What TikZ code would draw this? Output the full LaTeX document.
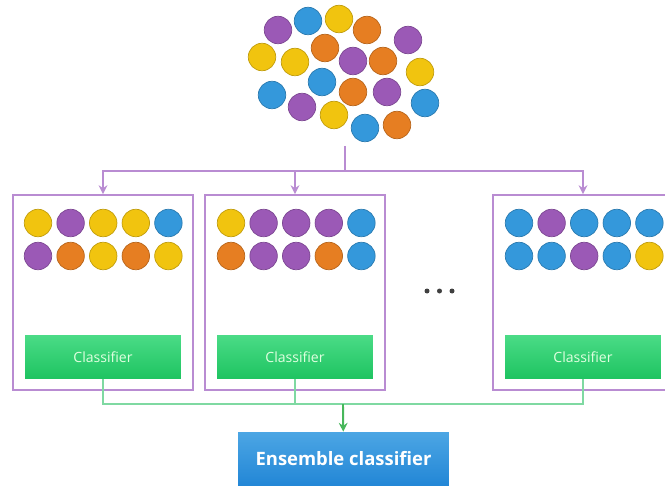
\documentclass[tikz,border=0pt]{standalone}
\usepackage{fontspec}
\setsansfont{Open Sans}
\usetikzlibrary{positioning, arrows.meta}
\definecolor{gold}{HTML}{F1C40F}
\definecolor{plum}{HTML}{9B59B6}
\definecolor{tang}{HTML}{E67E22}
\definecolor{sky}{HTML}{3498DB}
\definecolor{bagline}{HTML}{B98CD2}
\definecolor{voteline}{HTML}{7FD9A2}
\definecolor{clftop}{HTML}{4ADB86}
\definecolor{clfbot}{HTML}{1EC461}
\definecolor{enstop}{HTML}{4CA6E4}
\definecolor{ensbot}{HTML}{2286D6}
\tikzset{
  >={Stealth[length=5pt, width=5pt]}, % small filled heads
  ball/.style={circle, minimum size=0.55cm, inner sep=0pt, draw=#1!80!black, line width=0.4pt, fill=#1}, % one sample
  bag/.style={draw=bagline, line width=1.1pt, minimum width=3.6cm, minimum height=3.9cm}, % a bootstrap sample
  clf/.style={minimum width=3.12cm, minimum height=0.86cm, top color=clftop, bottom color=clfbot,
    text=white!88!green, font=\sffamily\fontsize{8}{9}\selectfont}, % base learner
  ens/.style={minimum width=4.22cm, minimum height=1.08cm, top color=enstop, bottom color=ensbot,
    text=white, font=\sffamily\bfseries\fontsize{10.5}{12}\selectfont}, % final model
  feed/.style={draw=bagline, line width=1.1pt},
  vote/.style={draw=voteline, line width=1.1pt},
  dot/.style={circle, fill=black!75, inner sep=0pt, minimum size=0.1cm}
}
\begin{document}
\begin{tikzpicture}[x=0.02cm, y=-0.02cm]
  \useasboundingbox (0,0) rectangle (665,486);
  \clip (0,0) rectangle (665,486);

  % the full data set
  \foreach \x/\y/\col [count=\i] in {278/30/plum, 308/21/sky, 339/19/gold, 367/30/tang, 408/40/plum,
      262/57/gold, 295/62/gold, 325/48/tang, 353/61/plum, 383/61/tang, 420/72/gold,
      322/82/sky, 272/95/sky, 302/107/plum, 353/92/tang, 387/92/plum, 425/103/sky,
      334/115/gold, 365/128/sky, 397/125/tang}
    \node[ball=\col] (p\i) at (\x,\y) {};
  \coordinate (pool) at (345,146);
  \coordinate (split) at (345,171);

  % the bags
  \node[bag] (box1) at (103,292.5) {};
  \node[bag] (box2) at (295,292.5) {};
  \node[bag] (box3) at (583,292.5) {};

  \foreach \bag/\xs/\cols in {1/38/{gold,plum,gold,gold,sky,plum,tang,gold,tang,gold},
      2/231/{gold,plum,plum,plum,sky,tang,plum,plum,tang,sky},
      3/519/{sky,plum,sky,sky,sky,sky,sky,plum,sky,gold}}
    \foreach \col [count=\i from 0] in \cols
      \node[ball=\col] (b\bag-\i) at ({\xs+32.6*mod(\i,5)},{223+33*int(\i/5)}) {};

  \node[clf, above=0.24cm of box1.south] (clf1) {Classifier};
  \node[clf, above=0.24cm of box2.south] (clf2) {Classifier};
  \node[clf, above=0.24cm of box3.south] (clf3) {Classifier};

  % more bags
  \foreach \x [count=\i] in {427,439.5,452}
    \node[dot] (more\i) at (\x,291) {};

  \node[ens] (ensemble) at (343.5,459) {Ensemble classifier};
  \coordinate (merge) at (343,404);

  \draw[feed] (pool) -- (split);
  \foreach \b in {box1,box2,box3}
    \draw[feed,->] (split) -| (\b);
  \foreach \c in {clf1,clf2,clf3}
    \draw[vote] (\c.south) |- (merge);
  \draw[vote,draw=voteline!70!green!80!black,->] (merge) -- (ensemble);
\end{tikzpicture}
\end{document}
